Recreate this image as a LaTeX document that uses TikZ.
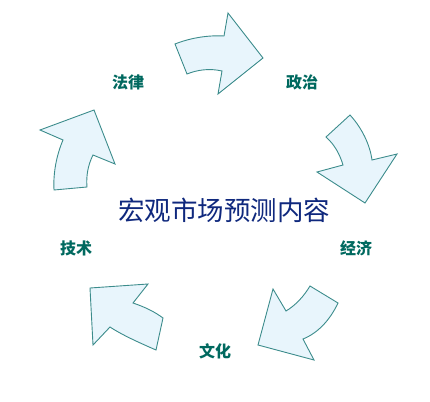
\documentclass[tikz,border=0pt]{standalone}
\usepackage{fontspec}
\newfontfamily\cjk{Noto Sans CJK SC}
\definecolor{labelteal}{RGB}{0,105,95}
\definecolor{titleblue}{RGB}{15,40,125}
\definecolor{arrowline}{RGB}{60,140,140}
\definecolor{arrowfill}{RGB}{232,245,252}
\begin{document}
\begin{tikzpicture}[
        x=1pt,
        y=-1pt,
        font=\cjk
    ]
    \tikzset{
        mylabel/.style = {text=labelteal, font=\cjk\bfseries\fontsize{16}{16}\selectfont, inner sep=0pt},
        mytitle/.style = {text=titleblue, font=\cjk\fontsize{26.5}{26.5}\selectfont, inner sep=0pt},
        myarrow/.style = {draw=arrowline, fill=arrowfill, line width=0.9pt, line join=miter},
    }
    \useasboundingbox (0,0) rectangle (430,401);
    \node[mytitle] at (224,210) (title) {宏观市场预测内容};
    \node[mylabel] at (128,82) (law) {法律};
    \node[mylabel] at (302,82) (politics) {政治};
    \node[mylabel] at (356,248) (economy) {经济};
    \node[mylabel] at (215,351) (culture) {文化};
    \node[mylabel] at (76,248) (tech) {技术};
    %
    \draw[myarrow] (175,44) .. controls (190,38) and (208,35) .. (224,36) -- (228,13) -- (263,58)
        -- (218,94) -- (222,71) .. controls (209,68) and (197,70) .. (187,74) -- cycle;
    \draw[myarrow] (350,115) .. controls (362,128) and (370,145) .. (372,160) -- (397,154) -- (365,203)
        -- (317,172) -- (343,165) .. controls (340,155) and (335,145) .. (326,137) -- cycle;
    \draw[myarrow] (310,286) -- (338,303) .. controls (330,320) and (318,333) .. (303,339) -- (314,360)
        -- (258,345) -- (273,289) -- (286,311) .. controls (296,305) and (304,296) .. (310,286) -- cycle;
    \draw[myarrow] (90,288) -- (148,284) -- (133,303) .. controls (145,307) and (155,312) .. (163,318)
        -- (156,350) .. controls (140,343) and (122,335) .. (110,327) -- (93,345) -- cycle;
    \draw[myarrow] (94,110) -- (115,164) -- (93,155) .. controls (88,165) and (86,176) .. (87,187)
        -- (54,190) .. controls (53,172) and (57,154) .. (63,140) -- (40,130) -- cycle;
\end{tikzpicture}
\end{document}
